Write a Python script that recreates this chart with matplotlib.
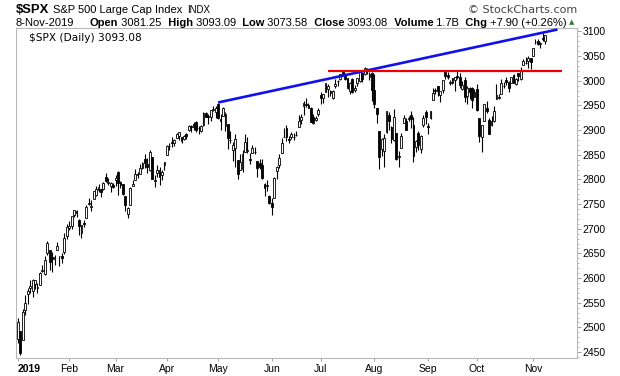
import matplotlib
matplotlib.use("Agg")
import matplotlib.pyplot as plt
from matplotlib.ticker import MultipleLocator
import numpy as np

# --- data: $SPX daily candles, 2 Jan 2019 .. 8 Nov 2019 ---
month_labels = ["2019", "Feb", "Mar", "Apr", "May", "Jun", "Jul", "Aug", "Sep", "Oct", "Nov"]
days_in_month = [21, 19, 21, 21, 22, 20, 22, 22, 20, 23, 6]

opens = [
    2476.96, 2491.92, 2474.33, 2535.61, 2568.11, 2580.00, 2573.51, 2588.11, 2580.31, 2585.10, 2614.75,
    2609.28, 2651.27, 2657.88, 2643.48, 2638.84, 2657.44, 2644.97, 2644.89, 2653.62, 2685.49,
    # feb
    2702.32, 2706.49, 2728.34, 2735.05, 2717.53, 2692.36, 2712.40, 2722.61, 2750.30, 2743.50, 2760.24,
    2769.28, 2779.05, 2780.67, 2780.67, 2804.35, 2792.36, 2787.50, 2788.11,
    # mar
    2798.22, 2814.37, 2794.41, 2790.27, 2766.53, 2730.79, 2747.61, 2787.34, 2799.78, 2810.38, 2810.79,
    2822.61, 2840.76, 2831.34, 2819.72, 2844.52, 2796.01, 2812.66, 2819.72, 2809.40, 2828.27,
    # apr
    2848.63, 2868.24, 2876.09, 2873.99, 2884.16, 2888.46, 2886.58, 2881.37, 2891.92, 2900.86, 2908.32,
    2912.26, 2916.04, 2904.81, 2898.78, 2909.99, 2934.00, 2928.99, 2925.81, 2940.58, 2937.14,
    # may
    2952.33, 2922.16, 2929.21, 2908.89, 2913.03, 2879.61, 2859.84, 2863.10, 2840.19, 2820.12, 2820.38,
    2855.80, 2858.60, 2841.94, 2854.02, 2856.06, 2836.70, 2832.41, 2830.03, 2790.25, 2786.94, 2766.15,
    # jun
    2751.53, 2762.64, 2818.09, 2828.51, 2852.87, 2885.83, 2903.27, 2882.73, 2886.24, 2886.82,
    2889.75, 2906.71, 2920.55, 2949.60, 2952.71, 2951.42, 2945.78, 2926.07, 2919.66, 2932.94,
    # jul
    2971.41, 2964.66, 2978.08, 2984.25, 2979.77, 2965.52, 2989.30, 2999.62, 3003.36, 3017.80, 3012.13,
    3005.10, 2978.87, 3004.26, 2981.93, 2994.74, 2998.77, 3016.26, 3013.25, 3024.47, 3007.66, 3016.22,
    # aug
    2980.32, 2943.90, 2898.07, 2861.18, 2858.65, 2896.21, 2930.51, 2907.07, 2880.72, 2894.15, 2846.20,
    2864.74, 2913.48, 2919.01, 2922.04, 2930.94, 2911.07, 2866.70, 2893.14, 2861.28, 2910.37, 2937.09,
    # sep
    2909.01, 2924.67, 2960.60, 2980.33, 2988.43, 2971.01, 2981.41, 3018.46, 3012.21, 2996.41,
    2995.67, 3001.50, 3010.36, 3008.42, 2983.50, 3002.43, 2968.35, 2985.73, 2985.47, 2967.07,
    # oct
    2983.69, 2924.78, 2885.38, 2918.56, 2944.23, 2920.40, 2911.10, 2918.55, 2963.07, 2965.81, 2973.61,
    2989.68, 3000.77, 2996.84, 2996.48, 3010.73, 2994.01, 3014.78, 3003.32, 3032.12, 3035.39, 3039.74,
    3046.90,
    # nov
    3050.72, 3078.96, 3080.80, 3075.10, 3087.02, 3081.25,
]

highs = [
    2519.49, 2493.14, 2538.07, 2566.16, 2579.82, 2595.32, 2597.82, 2596.27, 2589.32, 2613.08, 2625.76,
    2645.06, 2675.47, 2657.88, 2653.19, 2647.20, 2672.38, 2644.97, 2650.93, 2690.44, 2708.95,
    2716.66, 2724.99, 2738.98, 2738.08, 2719.32, 2708.07, 2718.05, 2748.19, 2761.85, 2757.90, 2775.66,
    2787.33, 2789.88, 2781.58, 2794.20, 2813.49, 2803.12, 2795.76, 2793.73,
    2808.02, 2816.88, 2796.44, 2790.27, 2766.53, 2744.13, 2784.00, 2798.32, 2821.24, 2815.00, 2830.73,
    2835.41, 2852.42, 2843.54, 2860.31, 2846.16, 2809.79, 2829.87, 2825.56, 2819.71, 2836.03,
    2869.40, 2872.90, 2885.25, 2881.28, 2893.24, 2895.95, 2886.88, 2889.71, 2893.42, 2910.54, 2909.60,
    2916.06, 2918.00, 2908.40, 2909.51, 2936.31, 2936.83, 2933.10, 2939.88, 2949.52, 2948.22,
    2954.13, 2931.68, 2947.85, 2937.32, 2913.03, 2897.96, 2875.97, 2891.31, 2840.19, 2852.54, 2858.68,
    2892.15, 2885.48, 2853.86, 2868.88, 2865.47, 2836.70, 2841.36, 2840.51, 2792.03, 2799.00, 2768.98,
    2763.07, 2804.49, 2827.28, 2852.10, 2884.97, 2904.77, 2910.61, 2888.57, 2895.24, 2894.45,
    2897.27, 2930.79, 2931.74, 2958.06, 2964.15, 2954.92, 2946.52, 2932.59, 2929.30, 2943.98,
    2977.93, 2973.21, 2995.84, 2994.03, 2980.76, 2981.90, 3002.98, 3002.33, 3013.92, 3017.80, 3015.02,
    3005.26, 2998.28, 3006.02, 2990.71, 3005.90, 3019.59, 3016.31, 3027.98, 3025.61, 3017.19, 3017.40,
    3013.59, 2945.50, 2898.07, 2884.40, 2892.17, 2938.72, 2935.75, 2907.58, 2943.31, 2894.15, 2856.67,
    2893.63, 2931.00, 2923.63, 2928.73, 2939.08, 2927.01, 2879.27, 2898.79, 2890.03, 2930.50, 2940.43,
    2914.39, 2938.84, 2985.86, 2985.03, 2989.43, 2979.39, 3000.93, 3021.99, 3017.33, 3002.19,
    3006.21, 3007.83, 3021.19, 3016.37, 2999.15, 3007.98, 2989.82, 2987.28, 2987.31, 2983.85,
    2992.53, 2924.78, 2911.13, 2953.74, 2959.75, 2925.47, 2929.32, 2948.46, 2993.28, 2972.84, 3003.28,
    2997.54, 3008.29, 3000.00, 3007.33, 3014.57, 3004.78, 3016.07, 3027.39, 3044.08, 3047.87, 3050.10,
    3046.90,
    3066.95, 3085.20, 3083.95, 3078.34, 3097.77, 3093.09,
]

lows = [
    2467.47, 2443.96, 2474.33, 2524.56, 2547.56, 2568.89, 2562.02, 2577.40, 2570.41, 2585.10, 2612.68,
    2606.36, 2647.58, 2617.27, 2612.86, 2627.01, 2657.33, 2624.06, 2631.05, 2648.34, 2678.65,
    2696.88, 2698.75, 2724.03, 2724.15, 2687.26, 2681.83, 2703.79, 2722.61, 2748.63, 2736.56, 2760.24,
    2767.29, 2774.06, 2764.55, 2779.11, 2794.99, 2789.47, 2775.13, 2782.51,
    2787.38, 2767.66, 2782.97, 2768.69, 2735.10, 2722.27, 2747.61, 2786.73, 2799.78, 2803.46, 2810.79,
    2821.99, 2823.27, 2812.43, 2817.38, 2800.47, 2785.02, 2803.99, 2787.72, 2798.77, 2819.23,
    2848.63, 2858.75, 2865.17, 2867.14, 2882.99, 2880.78, 2873.33, 2879.13, 2881.99, 2898.37, 2896.48,
    2900.71, 2895.45, 2891.90, 2896.35, 2908.53, 2926.05, 2912.84, 2917.56, 2939.35, 2924.11,
    2923.36, 2900.50, 2929.21, 2898.21, 2862.60, 2873.28, 2836.40, 2825.39, 2801.43, 2820.12, 2815.08,
    2855.80, 2854.23, 2831.29, 2854.02, 2851.11, 2805.49, 2820.19, 2801.58, 2766.06, 2776.74, 2750.52,
    2728.81, 2762.64, 2800.92, 2822.45, 2852.87, 2885.51, 2878.53, 2874.68, 2881.99, 2879.62,
    2887.30, 2905.44, 2911.43, 2931.50, 2946.87, 2944.05, 2916.01, 2912.99, 2918.57, 2929.05,
    2952.22, 2955.92, 2977.96, 2967.97, 2970.09, 2963.44, 2984.62, 2988.80, 3001.87, 3008.77, 3001.15,
    2984.25, 2973.09, 2975.86, 2976.65, 2988.56, 2996.82, 2997.24, 3012.59, 3014.30, 3000.94, 2958.08,
    2945.23, 2914.11, 2822.12, 2847.42, 2825.71, 2894.47, 2900.15, 2873.14, 2877.05, 2839.64, 2825.51,
    2864.74, 2913.48, 2899.60, 2917.91, 2904.51, 2834.97, 2856.00, 2860.59, 2853.05, 2905.67, 2913.32,
    2891.85, 2921.86, 2960.60, 2972.51, 2969.39, 2957.01, 2975.31, 3003.16, 3002.90, 2990.67,
    2993.73, 2978.57, 3003.16, 2984.68, 2982.23, 2957.73, 2952.86, 2963.71, 2945.53, 2967.07,
    2938.70, 2874.93, 2855.94, 2918.56, 2935.68, 2892.66, 2907.41, 2917.12, 2963.07, 2962.94, 2973.61,
    2985.20, 2991.79, 2976.31, 2995.35, 2995.04, 2991.21, 3000.42, 3001.94, 3032.12, 3034.81, 3025.96,
    3023.19,
    3050.72, 3074.87, 3072.15, 3065.89, 3080.23, 3073.58,
]

closes = [
    2510.03, 2447.89, 2531.94, 2549.69, 2574.41, 2584.96, 2596.64, 2596.26, 2582.61, 2610.30, 2616.10,
    2635.96, 2670.71, 2632.90, 2638.70, 2642.33, 2664.76, 2643.85, 2640.00, 2681.05, 2704.10,
    2706.53, 2724.87, 2737.70, 2731.61, 2706.05, 2707.88, 2709.80, 2744.73, 2753.03, 2745.73, 2775.60,
    2779.76, 2784.70, 2774.88, 2792.67, 2796.11, 2793.90, 2792.38, 2784.49,
    2803.69, 2792.81, 2789.65, 2771.45, 2748.93, 2743.07, 2783.30, 2791.52, 2810.92, 2808.48, 2822.48,
    2832.94, 2832.57, 2824.23, 2854.88, 2800.71, 2798.36, 2818.46, 2805.37, 2815.44, 2834.40,
    2867.19, 2867.24, 2873.40, 2879.39, 2892.74, 2895.77, 2878.20, 2888.21, 2888.32, 2907.41, 2905.58,
    2907.06, 2900.45, 2905.03, 2907.97, 2933.68, 2927.25, 2926.17, 2939.88, 2943.03, 2945.83,
    2923.73, 2917.52, 2945.64, 2932.47, 2884.05, 2879.42, 2870.72, 2881.40, 2811.87, 2834.41, 2850.96,
    2876.32, 2859.53, 2840.23, 2864.36, 2856.27, 2822.24, 2826.06, 2802.39, 2783.02, 2788.86, 2752.06,
    2744.45, 2803.27, 2826.15, 2843.49, 2873.34, 2886.73, 2885.72, 2879.84, 2891.64, 2886.98,
    2889.67, 2917.75, 2926.46, 2954.18, 2950.46, 2945.35, 2917.38, 2913.78, 2924.92, 2941.76,
    2964.33, 2973.01, 2995.82, 2990.41, 2975.95, 2979.63, 2993.07, 2999.91, 3013.77, 3014.30, 3004.04,
    2984.42, 2995.11, 2976.61, 2985.03, 3005.47, 3019.56, 3003.67, 3025.86, 3020.97, 3013.18, 2980.38,
    2953.56, 2932.05, 2844.74, 2881.77, 2883.98, 2938.09, 2918.65, 2882.70, 2926.32, 2840.60, 2847.60,
    2888.68, 2923.65, 2900.51, 2924.43, 2922.95, 2847.11, 2878.38, 2869.16, 2887.94, 2924.58, 2926.46,
    2906.27, 2937.78, 2976.00, 2978.71, 2978.43, 2979.39, 3000.93, 3009.57, 3007.39, 2997.96,
    3005.70, 3006.73, 3006.79, 2992.07, 2991.78, 2966.60, 2984.87, 2977.62, 2961.79, 2976.74,
    2940.25, 2887.61, 2910.63, 2952.01, 2938.79, 2893.06, 2919.40, 2938.13, 2970.27, 2966.15, 2995.68,
    2989.69, 2997.95, 2986.20, 3006.72, 2995.99, 3004.52, 3010.29, 3022.55, 3039.42, 3036.89, 3046.77,
    3037.56,
    3066.91, 3078.27, 3074.62, 3076.78, 3085.18, 3093.08,
]

# hand-drawn trendlines (bar index, price)
blue_x = [82, 221]
blue_y = [2956, 3104]
red_x = [127, 223]
red_y = [3020, 3020]

assert len(opens) == len(highs) == len(lows) == len(closes) == sum(days_in_month)

W, H = 620, 376
FONT = "Liberation Sans"
fig = plt.figure(figsize=(W / 100, H / 100), dpi=100)
ax = fig.add_axes([16 / W, 1 - 358 / H, (577 - 16) / W, (358 - 28) / H])

o = np.array(opens); h = np.array(highs); l = np.array(lows); c = np.array(closes)
x = np.arange(len(c))
up = c >= o

ax.vlines(x, l, h, color="black", lw=0.8, zorder=2)
ax.bar(x, np.abs(c - o), bottom=np.minimum(o, c), width=0.75,
       color=np.where(up, "white", "black"), edgecolor="black", linewidth=0.6, zorder=3)

ax.plot(blue_x, blue_y, color="#1010ee", lw=1.9, zorder=4, solid_capstyle="butt")
ax.plot(red_x, red_y, color="#ee0000", lw=1.6, zorder=4, solid_capstyle="butt")

ax.set_xlim(-0.8, 229)
ax.set_ylim(2438, 3107)

# axes styling
for s in ax.spines.values():
    s.set_color("#b8b8b8")
    s.set_linewidth(0.8)
ax.yaxis.tick_right()
ax.yaxis.set_major_locator(MultipleLocator(50))
ax.yaxis.set_minor_locator(MultipleLocator(10))
ax.tick_params(axis="y", which="major", length=3, width=0.6, color="#909090", pad=1,
               labelsize=7.5, labelcolor="black")
ax.tick_params(axis="y", which="minor", length=1.5, width=0.5, color="#a0a0a0")

month_starts = np.concatenate([[0], np.cumsum(days_in_month)[:-1]])
ax.set_xticks(month_starts)
ax.set_xticklabels(month_labels)
ax.tick_params(axis="x", length=2.5, width=0.6, color="#909090", pad=2, labelsize=7.5)
first = ax.get_xticklabels()[0]
first.set_fontweight("bold")
first.set_ha("left")
for t in ax.get_xticklabels() + ax.get_yticklabels():
    t.set_family(FONT)

renderer = fig.canvas.get_renderer()


def chain(pieces, y, gap=0):
    # lay out (text, weight, size, start_px) pieces left to right, return right edge in px
    xpos = 0
    for s, w, size, start in pieces:
        if start is not None:
            xpos = start
        t = fig.text(xpos / W, 1 - y / H, s, fontsize=size, fontweight=w, family=FONT, va="center")
        xpos = t.get_window_extent(renderer).x1 + gap
    return xpos


# header line 1
chain([("$SPX", "bold", 9.4, 16), ("S&P 500 Large Cap Index", "normal", 8, None),
       ("INDX", "normal", 7, None)], 10, gap=4)
fig.text(577 / W, 1 - 10 / H, "\u00a9 StockCharts.com", fontsize=8, family="DejaVu Sans",
         va="center", ha="right", color="#444444")

# header line 2
S = 8.0
row = [("8-Nov-2019", "normal", S, 16), ("Open", "bold", S, 90), (" 3081.25", "normal", S, None),
       ("  High", "bold", S, None), (" 3093.09", "normal", S, None), ("  Low", "bold", S, None),
       (" 3073.58", "normal", S, None), ("  Close", "bold", S, None), (" 3093.08", "normal", S, None),
       ("  Volume", "bold", S, None), (" 1.7B", "normal", S, None), ("  Chg", "bold", S, None),
       (" +7.90 (+0.26%)", "normal", S, None)]
xend = chain(row, 23)
fig.text((xend + 2) / W, 1 - 22.5 / H, "\u25b2", fontsize=5, color="#2f7d32", va="center",
         family="DejaVu Sans")

ax.text(13 / (577 - 16), 0.985, "$SPX (Daily) 3093.08", transform=ax.transAxes, fontsize=7.6,
        family="DejaVu Sans", va="top", ha="left")

fig.savefig("out.png", dpi=100)
